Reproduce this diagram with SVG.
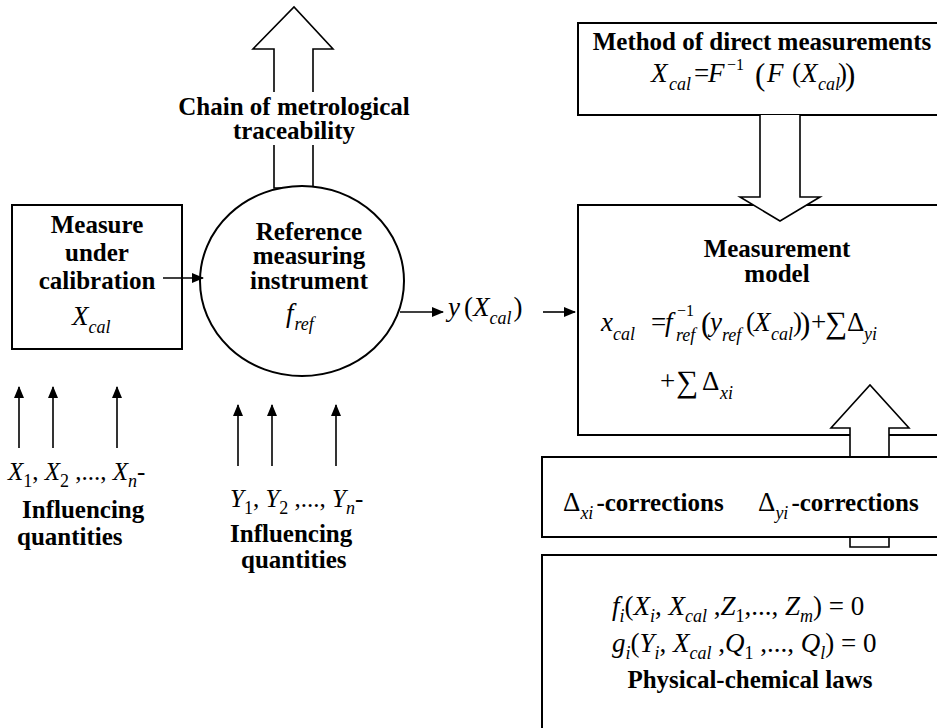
<svg xmlns="http://www.w3.org/2000/svg" width="937" height="728" viewBox="0 0 937 728">
<style>
.b{font-family:"Liberation Serif",serif;font-weight:bold;font-size:25px;fill:#000}
.m{font-family:"Liberation Serif",serif;font-style:italic;font-size:27px;fill:#000}
.n{font-family:"Liberation Serif",serif;font-size:27px;fill:#000}
.r{font-style:normal}
.s{font-size:18px}
.p{font-size:31px}
.sup{font-size:16px}
.sig{font-size:31px}
.inf{font-size:25px}
.box{fill:#fff;stroke:#000;stroke-width:2}
.ln{fill:none;stroke:#000;stroke-width:1.6}
.ar{fill:#fff;stroke:#000;stroke-width:1.6}
</style>
<defs>
<marker id="ah" markerWidth="12" markerHeight="10" refX="11" refY="5" orient="auto" markerUnits="userSpaceOnUse">
<path d="M0,0 L12,5 L0,10 Z" fill="#000"/>
</marker>
</defs>
<rect width="937" height="728" fill="#fff"/>

<g id="chain">
<path class="ln" d="M274,92 V49 H253 L294,7 L333,49 H313 V92 M274,145 V188 H313 V145"/>
<text class="b" x="294" y="115" text-anchor="middle">Chain of metrological<tspan x="294" y="139">traceability</tspan></text>
</g>

<g id="measure">
<rect class="box" x="12" y="205" width="170" height="144"/>
<text class="b" x="97" y="233" text-anchor="middle">Measure<tspan x="97" y="261">under</tspan><tspan x="97" y="289">calibration</tspan></text>
<text class="m" x="72" y="325">X<tspan class="s" dy="8">cal</tspan></text>
</g>

<g id="reference">
<ellipse class="box" cx="302" cy="281" rx="102" ry="95"/>
<text class="b" x="309" y="240" text-anchor="middle">Reference<tspan x="309" y="264">measuring</tspan><tspan x="309" y="289">instrument</tspan></text>
<text class="m" x="286" y="322">f<tspan class="s" dy="8" dx="1">ref</tspan></text>
</g>

<g id="direct">
<rect class="box" x="578" y="23" width="380" height="92"/>
<text class="b" x="762" y="50" text-anchor="middle">Method of direct measurements</text>
<text class="m" x="651" y="82">X<tspan class="s" x="669" y="90">cal</tspan><tspan class="r" x="694" y="82">=</tspan><tspan x="708" y="82">F</tspan><tspan class="r sup" x="727" y="70">−1</tspan><tspan class="r p" x="755" y="85">(</tspan><tspan x="767" y="82">F</tspan><tspan class="r" x="792" y="82">(</tspan><tspan x="801" y="82">X</tspan><tspan class="s" x="818" y="90">cal</tspan><tspan class="r" x="838" y="82">)</tspan><tspan class="r p" x="845" y="85">)</tspan></text>
</g>

<g id="model">
<rect class="box" x="578" y="205" width="380" height="230"/>
<text class="b" x="777" y="257" text-anchor="middle">Measurement<tspan x="777" y="282">model</tspan></text>
<text class="m" x="601" y="331">x<tspan class="s" x="613" y="340">cal</tspan><tspan class="r" x="651" y="331">=</tspan><tspan x="665" y="331">f</tspan><tspan class="r sup" x="677" y="316">−1</tspan><tspan class="s" x="676" y="341">ref</tspan><tspan class="r p" x="701" y="334">(</tspan><tspan x="710" y="331">y</tspan><tspan class="s" x="722" y="341">ref</tspan><tspan class="r" x="746" y="331">(</tspan><tspan x="754" y="331">X</tspan><tspan class="s" x="771" y="340">cal</tspan><tspan class="r" x="793" y="331">)</tspan><tspan class="r p" x="800" y="334">)</tspan><tspan class="r" x="811" y="331">+</tspan><tspan class="r sig" x="825" y="333">∑</tspan><tspan class="r" x="847" y="331">Δ</tspan><tspan class="s" x="864" y="340">yi</tspan></text>
<text class="n" x="660" y="390">+<tspan class="sig" x="676" y="392">∑</tspan><tspan x="702" y="390">Δ</tspan><tspan class="s" font-style="italic" x="720" y="399">xi</tspan></text>
</g>

<g id="corrections">
<path class="ar" d="M850,547 V428 H831 L870,385 L909,428 H889 V547 Z"/>
<rect class="box" x="542" y="457" width="420" height="80"/>
<text class="n" x="563" y="511">Δ<tspan class="s" font-style="italic" dy="8">xi</tspan><tspan class="b" dy="-8" dx="3">-corrections</tspan></text>
<text class="n" x="758" y="511">Δ<tspan class="s" font-style="italic" dy="8">yi</tspan><tspan class="b" dy="-8" dx="3">-corrections</tspan></text>
</g>

<g id="laws">
<rect class="box" x="542" y="555" width="420" height="200"/>
<text class="m" x="612" y="615">f<tspan class="s" dy="7">i</tspan><tspan class="r" dy="-7">(</tspan>X<tspan class="s" dy="7">i</tspan><tspan class="r" dy="-7">, </tspan>X<tspan class="s" dy="7">cal</tspan><tspan class="r" dy="-7"> ,</tspan>Z<tspan class="s r" dy="7">1</tspan><tspan class="r" dy="-7">,..., </tspan>Z<tspan class="s" dy="7">m</tspan><tspan class="r" dy="-7">) = 0</tspan></text>
<text class="m" x="612" y="652">g<tspan class="s" dy="7">i</tspan><tspan class="r" dy="-7">(</tspan>Y<tspan class="s" dy="7">i</tspan><tspan class="r" dy="-7">, </tspan>X<tspan class="s" dy="7">cal</tspan><tspan class="r" dy="-7"> ,</tspan>Q<tspan class="s r" dy="7">1</tspan><tspan class="r" dy="-7"> ,..., </tspan>Q<tspan class="s" dy="7">l</tspan><tspan class="r" dy="-7">) = 0</tspan></text>
<text class="b" x="750" y="688" text-anchor="middle">Physical-chemical laws</text>
</g>

<g id="influences-x">
<text class="m inf" x="8" y="480">X<tspan class="s r" dy="7">1</tspan><tspan class="r" dy="-7">, </tspan>X<tspan class="s r" dy="7">2</tspan><tspan class="r" dy="-7"> ,..., </tspan>X<tspan class="s" dy="7">n</tspan><tspan class="r" dy="-7">-</tspan></text>
<text class="b" x="22" y="518">Influencing<tspan x="17" y="545">quantities</tspan></text>
</g>

<g id="influences-y">
<text class="m inf" x="230" y="507">Y<tspan class="s r" dy="7">1</tspan><tspan class="r" dy="-7">, </tspan>Y<tspan class="s r" dy="7">2</tspan><tspan class="r" dy="-7"> ,..., </tspan>Y<tspan class="s" dy="7">n</tspan><tspan class="r" dy="-7">-</tspan></text>
<text class="b" x="230" y="542">Influencing<tspan x="241" y="568">quantities</tspan></text>
</g>

<g id="output">
<text class="m" x="448" y="316">y<tspan class="r" dx="4">(</tspan>X<tspan class="s" dy="8">cal</tspan><tspan class="r" dy="-8" dx="2">)</tspan></text>
</g>

<g id="connectors">
<line class="ln" x1="163" y1="278" x2="203" y2="278" marker-end="url(#ah)"/>
<line class="ln" x1="400" y1="312" x2="443" y2="312" marker-end="url(#ah)"/>
<line class="ln" x1="543" y1="312" x2="575" y2="312" marker-end="url(#ah)"/>
<path class="ar" d="M760,115 V197 H740 L780,221 L820,197 H800 V115"/>
<line class="ln" x1="19" y1="448" x2="19" y2="387" marker-end="url(#ah)"/>
<line class="ln" x1="53" y1="448" x2="53" y2="387" marker-end="url(#ah)"/>
<line class="ln" x1="117" y1="448" x2="117" y2="387" marker-end="url(#ah)"/>
<line class="ln" x1="238" y1="466" x2="238" y2="405" marker-end="url(#ah)"/>
<line class="ln" x1="272" y1="466" x2="272" y2="405" marker-end="url(#ah)"/>
<line class="ln" x1="336" y1="466" x2="336" y2="405" marker-end="url(#ah)"/>
</g>
</svg>
